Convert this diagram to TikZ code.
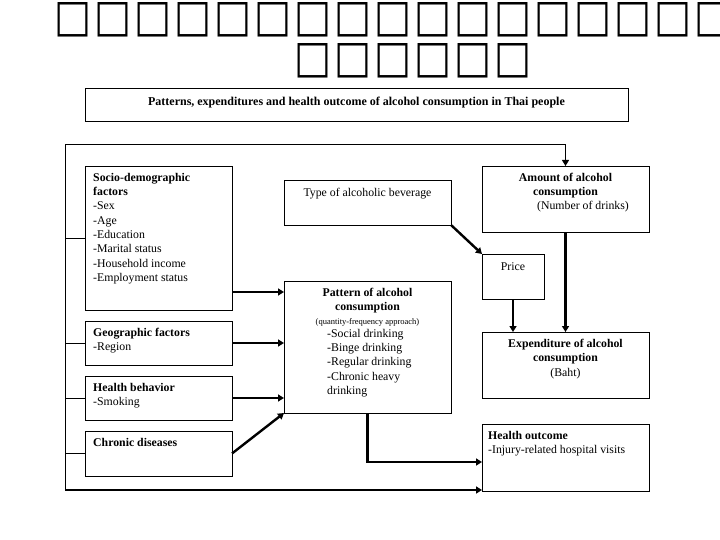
\documentclass[tikz,border=0pt]{standalone}
\usepackage{fontspec}
\setmainfont{Liberation Serif}
\newfontfamily\boxfont{DejaVu Sans}
\usetikzlibrary{arrows.meta}

\tikzset{
  box/.style={draw, line width=0.9pt, anchor=north west, inner sep=0pt, outer sep=0pt},
  txt/.style={anchor=north west, inner sep=0pt, align=left, font=\fontsize{11.8}{14.3}\selectfont},
  ctxt/.style={anchor=north, inner sep=0pt, align=center, font=\fontsize{11.8}{14.3}\selectfont},
  arr/.style={line width=2.4pt, -{Triangle[length=6pt,width=7pt]}},
  thinarr/.style={line width=1pt, -{Triangle[length=6pt,width=7pt]}},
  tofu/.style={inner sep=0pt, font=\boxfont}
}

\begin{document}
\begin{tikzpicture}[x=1pt,y=-1pt]
\useasboundingbox (0,0) rectangle (720,540);
% title (glyphs not available)
\foreach \i in {0,...,16}
  \node[tofu] (ta\i) at (73+40*\i,19.5) {\resizebox{37pt}{29pt}{□}};
\foreach \i in {0,...,5}
  \node[tofu] (tb\i) at (313+40*\i,61) {\resizebox{37pt}{29pt}{□}};
%
\node[box, minimum width=543pt, minimum height=33pt] (head) at (85,88) {};
\node[ctxt, font=\fontsize{12}{14}\selectfont] (headtxt) at ([yshift=-8.5pt]head.north) {\textbf{Patterns, expenditures and health outcome of alcohol consumption in Thai people}};
%
\node[box, minimum width=147pt, minimum height=144pt] (soc) at (85,166) {};
\node[box, minimum width=147pt, minimum height=44pt] (geo) at (85,321) {};
\node[box, minimum width=147pt, minimum height=44pt] (beh) at (85,376) {};
\node[box, minimum width=147pt, minimum height=45pt] (chr) at (85,431) {};
\node[box, minimum width=167pt, minimum height=45pt] (type) at (284,180) {};
\node[box, minimum width=167pt, minimum height=132pt] (pat) at (284,281) {};
\node[box, minimum width=167pt, minimum height=66pt] (amt) at (482,166) {};
\node[box, minimum width=62pt, minimum height=45pt] (price) at (482,254) {};
\node[box, minimum width=167pt, minimum height=66pt] (exp) at (482,332) {};
\node[box, minimum width=167pt, minimum height=67pt] (hlth) at (482,424) {};
%
\node[txt] (soctxt) at ([xshift=8pt,yshift=-7pt]soc.north west) {\textbf{Socio-demographic}\\\textbf{factors}\\-Sex\\-Age\\-Education\\-Marital status\\-Household income\\-Employment status};
\node[txt] (geotxt) at ([xshift=8pt,yshift=-7pt]geo.north west) {\textbf{Geographic factors}\\-Region};
\node[txt] (behtxt) at ([xshift=8pt,yshift=-7pt]beh.north west) {\textbf{Health behavior}\\-Smoking};
\node[txt] (chrtxt) at ([xshift=8pt,yshift=-7pt]chr.north west) {\textbf{Chronic diseases}};
\node[ctxt] (typetxt) at ([yshift=-8pt]type.north) {Type of alcoholic beverage};
\node[ctxt] (pathead) at ([yshift=-6.5pt]pat.north) {\textbf{Pattern of alcohol}\\\textbf{consumption}\\{\fontsize{8.5}{12}\selectfont(quantity-frequency approach)}};
\node[txt] (patlist) at (327,329) {-Social drinking\\-Binge drinking\\-Regular drinking\\-Chronic heavy\\drinking};
\node[ctxt] (amthead) at ([yshift=-7pt]amt.north) {\textbf{Amount of alcohol}\\\textbf{consumption}};
\node[ctxt] (amtnum) at (583,201) {(Number of drinks)};
\node[ctxt] (pricetxt) at ([yshift=-8pt]price.north) {Price};
\node[ctxt] (exptxt) at ([yshift=-7pt]exp.north) {\textbf{Expenditure of alcohol}\\\textbf{consumption}\\(Baht)};
\node[txt] (hlthtxt) at ([xshift=6pt,yshift=-7pt]hlth.north west) {\textbf{Health outcome}\\-Injury-related hospital visits};
%
\coordinate (lt) at (65,145);
\coordinate (lb) at (65,490);
\draw[line width=1pt] (lt) -- (lb);
\draw[thinarr] (lt) -| (amt.north);
\draw[line width=1pt] (soc.west) -- (soc.west -| lt);
\draw[line width=1pt] (geo.west) -- (geo.west -| lt);
\draw[line width=1pt] (beh.west) -- (beh.west -| lt);
\draw[line width=1pt] (chr.west) -- (chr.west -| lt);
\draw[arr] (lb) -- (lb -| hlth.west);
%
\draw[arr] ([yshift=18pt]soc.south east) -- ([yshift=18pt]soc.south east -| pat.west);
\draw[arr] (geo.east) -- (geo.east -| pat.west);
\draw[arr] (beh.east) -- (beh.east -| pat.west);
\draw[arr] (chr.east) -- (pat.south west);
\draw[arr] (type.south east) -- (price.north west);
\draw[arr] (amt.south) -- (exp.north);
\draw[arr] (price.south) -- (price.south |- exp.north);
\draw[arr] (pat.south) |- ([yshift=-4.5pt]hlth.west);
\end{tikzpicture}
\end{document}
